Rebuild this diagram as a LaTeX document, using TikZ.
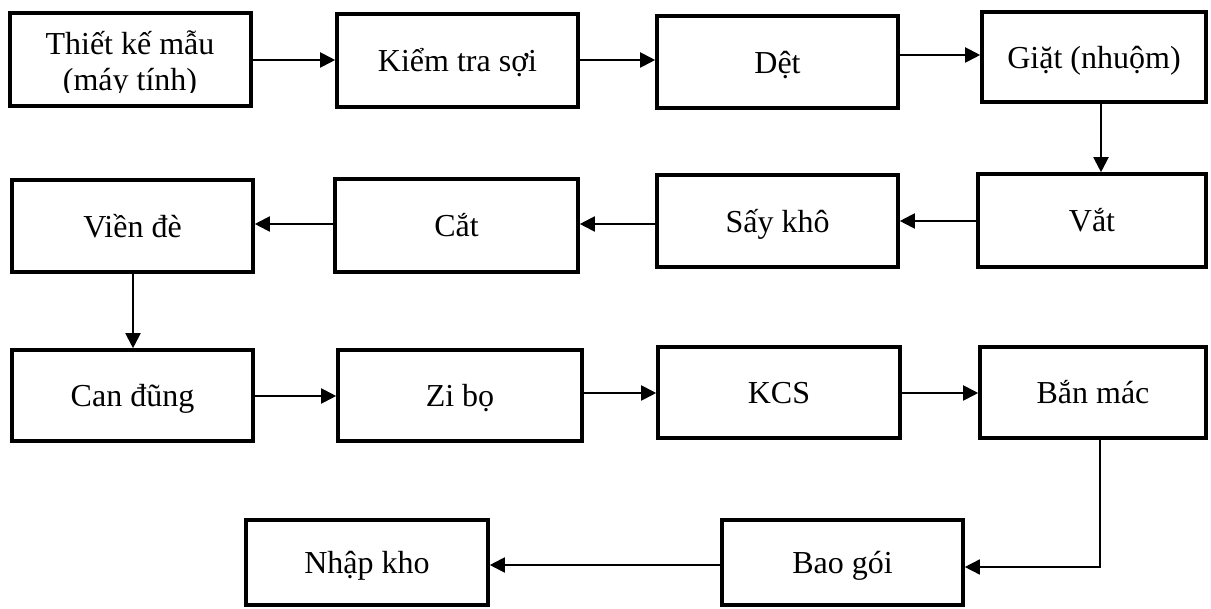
\documentclass[tikz,border=0pt]{standalone}
\usepackage{fontspec}
\setmainfont{Liberation Serif}
\usetikzlibrary{arrows.meta}
\begin{document}
\begin{tikzpicture}[x=1pt,y=-1pt,
  box/.style={draw=black,line width=3.6pt,fill=white,inner sep=0pt,
    font=\fontsize{32}{36}\selectfont,text height=29pt,text depth=6.4pt},
  arr/.style={line width=2pt,-{Triangle[length=15pt,width=15pt]}},
  thinarr/.style={line width=1.6pt,-{Triangle[length=15pt,width=15pt]}},
  lbl/.style={font=\fontsize{32}{36}\selectfont,inner sep=0pt}]
\useasboundingbox (0,0) rectangle (1211,609);
% boxes: (left,top) to (right,bottom)
\newcommand{\mybox}[6]{%
  \node[box,minimum width={#4-#2},minimum height={#5-#3}] (#1) at ({(#2+#4)/2},{(#3+#5)/2}) {#6};}
\mybox{b1}{10}{13}{251}{106}{}
\mybox{b2}{337}{14}{578}{107}{Kiểm tra sợi}
\mybox{b3}{657}{16}{898}{108}{Dệt}
\mybox{b4}{982}{12}{1206}{102}{Giặt (nhuộm)}
\mybox{vien}{12}{180}{253}{272}{Viền đè}
\mybox{cat}{335}{179}{578}{272}{Cắt}
\mybox{say}{657}{175}{898}{267}{Sấy khô}
\mybox{vat}{978}{174}{1206}{267}{Vắt}
\mybox{can}{12}{350}{253}{441}{Can đũng}
\mybox{zi}{338}{350}{582}{441}{Zi bọ}
\mybox{kcs}{658}{347}{900}{438}{KCS}
\mybox{ban}{980}{347}{1206}{438}{Bắn mác}
\mybox{nhap}{246}{520}{488}{605}{Nhập kho}
\mybox{bao}{722}{520}{963}{605}{Bao gói}
% clipped two-line text of first box
\begin{scope}
  \clip (10,13) rectangle (251,93);
  \node[lbl,anchor=base] (t1a) at (130,55) {Thiết kế mẫu};
  \node[lbl,anchor=base] (t1b) at (130,91) {(máy tính)};
\end{scope}
% helper levels
\coordinate (ya) at (0,60);
\coordinate (yb) at (0,55);
\coordinate (yc) at (0,221);
\coordinate (yd) at (0,224);
\coordinate (ye) at (0,396);
\coordinate (yf) at (0,393);
\coordinate (yg) at (0,567);
\coordinate (yh) at (0,565);
\coordinate (xa) at (1101,0);
\coordinate (xb) at (133,0);
\coordinate (xc) at (1100,0);
% connectors
\draw[arr] (b1.east |- ya) -- (b2.west |- ya);
\draw[arr] (b2.east |- ya) -- (b3.west |- ya);
\draw[arr] (b3.east |- yb) -- (b4.west |- yb);
\draw[arr] (xa |- b4.south) -- (xa |- vat.north);
\draw[arr] (vat.west |- yc) -- (say.east |- yc);
\draw[arr] (say.west |- yd) -- (cat.east |- yd);
\draw[arr] (cat.west |- yd) -- (vien.east |- yd);
\draw[arr] (xb |- vien.south) -- (xb |- can.north);
\draw[arr] (can.east |- ye) -- (zi.west |- ye);
\draw[arr] (zi.east |- yf) -- (kcs.west |- yf);
\draw[arr] (kcs.east |- yf) -- (ban.west |- yf);
\draw[thinarr] (xc |- ban.south) -- (xc |- yg) -- (bao.east |- yg);
\draw[arr] (bao.west |- yh) -- (nhap.east |- yh);
\end{tikzpicture}
\end{document}
